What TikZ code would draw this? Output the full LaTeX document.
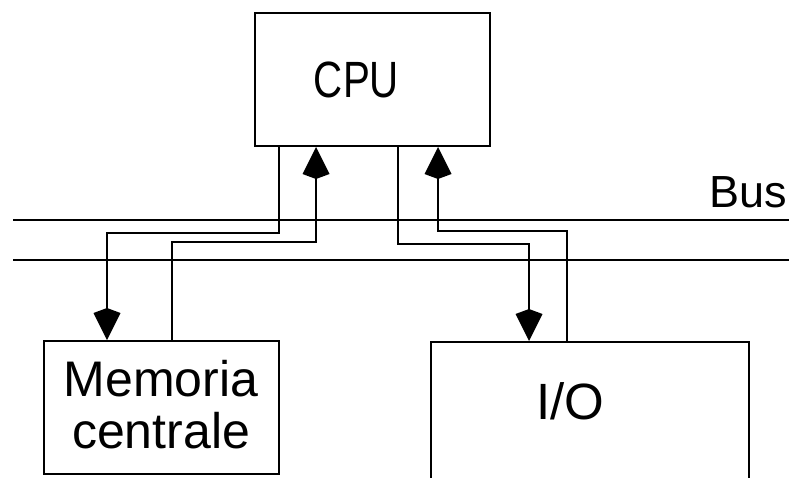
\documentclass[tikz,border=0pt]{standalone}
\usepackage{fontspec}
\setmainfont{Liberation Sans}
\usetikzlibrary{arrows.meta}
\begin{document}
\begin{tikzpicture}[x=1pt,y=-1pt,
  box/.style={draw, line width=2pt, rectangle, inner sep=0pt, anchor=north west},
  lbl/.style={inner sep=0pt, font=\fontsize{51}{52}\selectfont},
  wire/.style={line width=2pt},
  arr/.style={wire, -{Kite[length=32pt,width=27pt,inset=5pt]}},
]
\useasboundingbox (0,0) rectangle (789,477);
\clip (0,0) rectangle (789,477);
% boxes
\node[box, minimum width=235pt, minimum height=133pt] (cpu) at (254,12) {};
\node[lbl, anchor=base] (cputext) at (356.5,97) {\scalebox{0.79}[1]{CPU}};
\node[box, minimum width=235pt, minimum height=133pt] (mem) at (43,340) {};
\node[lbl, align=center, font=\fontsize{50}{52}\selectfont] (memtext) at (161,405) {Memoria\\centrale};
\node[box, minimum width=318pt, minimum height=170pt] (io) at (430,341) {};
\node[lbl, anchor=base] (iotext) at (570,419) {I/O};
% bus
\coordinate (b1l) at (13,220); \coordinate (b1r) at (789,220);
\coordinate (b2l) at (13,260); \coordinate (b2r) at (789,260);
\draw[wire] (b1l) -- (b1r);
\draw[wire] (b2l) -- (b2r);
\node[lbl, anchor=base, font=\fontsize{45}{46}\selectfont] (bus) at (748,207) {Bus};
% wires
\draw[arr] (cpu.south -| 279,0) -- (279,233) -- (107,233) -- (mem.north -| 107,0);
\draw[arr] (mem.north -| 172,0) -- (172,242) -- (316,242) -- (cpu.south -| 316,0);
\draw[arr] (cpu.south -| 398,0) -- (398,244) -- (529,244) -- (io.north -| 529,0);
\draw[arr] (io.north -| 567,0) -- (567,231) -- (438,231) -- (cpu.south -| 438,0);
\end{tikzpicture}
\end{document}
